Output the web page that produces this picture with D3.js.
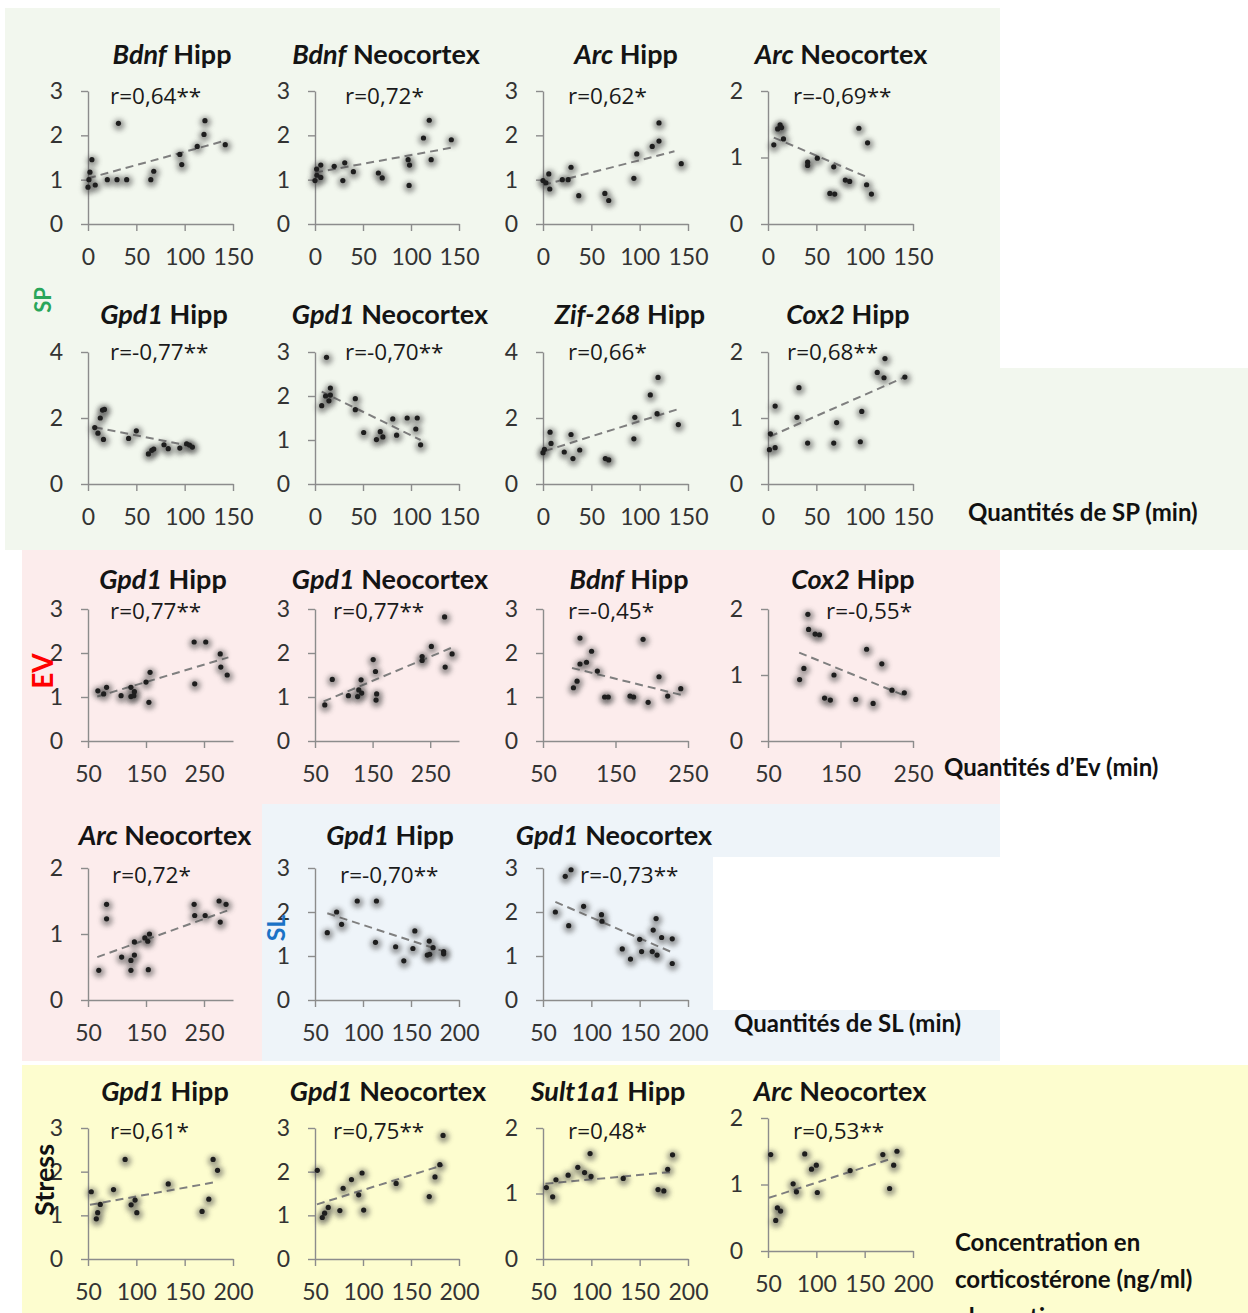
<!DOCTYPE html>
<html><head><meta charset="utf-8">
<script src="https://cdn.jsdelivr.net/npm/d3@7/dist/d3.min.js"></script>
<style>
html,body{margin:0;padding:0;background:#fff;}
svg{display:block;font-family:Lato,"Open Sans",sans-serif;}
</style></head>
<body><svg id="c" width="1248" height="1313"></svg>
<script>
// ---------- DATA ----------
// SP panels (x: Quantités de SP, min)
const spBdnfHipp = [[0,0.83],[2,1.17],[4,1.45],[7.5,0.88],[1,1.0],[20,1.0],[30,1.0],[31.5,2.27],[40,1.0],[65,1.0],[68,1.19],[95,1.57],[97,1.34],[113,1.75],[120,2.02],[121,2.33],[142,1.79]];
const spBdnfHippTrend = [[0,1.03],[142,1.88]];
const spBdnfNeo = [[0,0.98],[1.7,1.24],[2,1.1],[6,1.33],[6,1.05],[20,1.3],[29,0.98],[31,1.38],[40,1.18],[66,1.15],[70,1.04],[97,1.45],[98.5,1.33],[98,0.87],[113,1.94],[119,2.34],[121,1.45],[142,1.9]];
const spBdnfNeoTrend = [[0,1.16],[142,1.72]];
const spArcHipp = [[0,0.98],[3,0.93],[6,1.13],[7,0.79],[20,1.0],[26,1.0],[29,1.28],[37,0.64],[64,0.69],[68,0.53],[94,1.03],[97,1.58],[113,1.75],[120,1.87],[120,2.28],[143,1.36]];
const spArcHippTrend = [[0,0.88],[136,1.64]];
const spArcNeo = [[6,1.19],[10,1.43],[12.5,1.49],[14,1.45],[16,1.28],[41,0.93],[41,0.88],[51,0.99],[64,0.46],[69,0.45],[68,0.86],[80,0.66],[84.5,0.64],[94,1.44],[103,1.22],[102,0.59],[107,0.45]];
const spArcNeoTrend = [[6,1.30],[105,0.69]];
const spGpd1Hipp = [[7,1.71],[10.3,1.54],[12.7,2.0],[15,2.24],[17,2.26],[16,1.35],[42,1.38],[50,1.61],[62.5,0.91],[66,1.02],[68,1.06],[78.6,1.19],[83,1.07],[95,1.09],[102,1.22],[105,1.18],[108,1.12]];
const spGpd1HippTrend = [[7,1.72],[108,1.14]];
const spGpd1Neo = [[7,1.78],[12,2.88],[11,2.0],[14.5,1.89],[16,2.18],[16,2.02],[42,1.94],[42,1.69],[50.7,1.17],[64,1.01],[68,1.19],[70.7,1.07],[81,1.48],[85,1.11],[96,1.5],[106.5,1.5],[105,1.25],[110,0.89]];
const spGpd1NeoTrend = [[7,2.1],[110,1.0]];
const spZifHipp = [[0,0.95],[1.5,1.05],[7.3,1.57],[8.3,1.23],[22,0.97],[29,1.5],[31,0.77],[38,1.03],[64.5,0.77],[68,0.73],[94,1.37],[95,2.02],[111,2.7],[119,3.23],[118,2.13],[140,1.8]];
const spZifHippTrend = [[2,1.0],[140,2.27]];
const spCox2Hipp = [[2.5,0.76],[1.5,0.52],[7.4,0.55],[7.4,1.18],[30,1.01],[32,1.46],[41,0.62],[68,0.62],[71,0.93],[95.5,0.64],[97,1.1],[113,1.69],[120,1.61],[121,1.9],[141.6,1.62]];
const spCox2HippTrend = [[2,0.72],[143,1.63]];
// EV panels (x: Quantités d'Ev, min)
const evGpd1Hipp = [[67,1.14],[77,1.07],[82,1.22],[107,1.03],[124,1.22],[124,1.01],[130,1.12],[129,1.03],[150,1.34],[157,1.56],[155,0.88],[233,2.25],[234,1.3],[253,2.25],[278,1.98],[279,1.68],[290,1.5]];
const evGpd1HippTrend = [[66,1.01],[292,1.9]];
const evGpd1Neo = [[67,0.82],[80,1.4],[108,1.03],[124,1.01],[126,1.16],[130,1.39],[131,1.09],[151,1.85],[155,1.58],[157,1.07],[156,0.93],[236,1.92],[236,1.83],[252,2.15],[275,2.82],[276,1.68],[288,1.98]];
const evGpd1NeoTrend = [[65,0.9],[289,2.13]];
const evBdnfHipp = [[92,1.21],[97,1.36],[101,2.34],[101,1.75],[110,1.79],[117,2.04],[125,1.59],[135,1.0],[140,1.0],[170,1.02],[175,1.0],[188,2.31],[195,0.88],[210,1.46],[222,1.02],[240,1.19]];
const evBdnfHippTrend = [[90,1.66],[245,1.03]];
const evCox2Hipp = [[93.6,0.93],[99.5,1.1],[105,1.92],[106,1.69],[115,1.62],[121,1.61],[128,0.65],[136,0.62],[141,1.0],[171,0.63],[186,1.39],[195,0.57],[207,1.17],[221,0.77],[238,0.73]];
const evCox2HippTrend = [[93,1.34],[240,0.68]];
const evArcNeo = [[68.6,0.45],[82,1.45],[82,1.23],[108,0.65],[124,0.6],[124,0.45],[130,0.68],[130,0.88],[148,0.94],[153,0.89],[156,1.0],[154,0.46],[233,1.45],[234,1.28],[252,1.28],[276,1.5],[278,1.18],[288,1.45]];
const evArcNeoTrend = [[66,0.65],[292,1.36]];
// SL panels (x: Quantités de SL, min)
const slGpd1Hipp = [[62.8,1.53],[72.5,2.0],[77.7,1.72],[94,2.25],[113,1.31],[114,2.25],[134,1.21],[142.5,0.89],[152,1.17],[154,1.57],[167,1.02],[169,1.34],[169.5,1.04],[173,1.19],[184,1.1],[184,1.05]];
const slGpd1HippTrend = [[62.8,1.97],[185,1.1]];
const slGpd1Neo = [[62.8,2.0],[73,2.81],[76.6,1.69],[79,2.96],[92,2.13],[110.5,1.94],[111,1.79],[132,1.16],[140.5,0.93],[150,1.38],[152,1.1],[163,1.1],[164,1.59],[167,1.85],[168,1.02],[172.7,1.42],[183.7,1.39],[183.7,0.83]];
const slGpd1NeoTrend = [[62.8,2.23],[185,1.07]];
// Stress panels (x: corticostérone, ng/ml)
const stGpd1Hipp = [[53.4,1.54],[58.6,0.92],[60,1.06],[62.7,1.25],[76.4,1.59],[88.4,2.28],[94.6,1.24],[98.7,1.35],[100.5,1.06],[133,1.72],[168,1.09],[175,1.37],[179.4,2.28],[184,2.03]];
const stGpd1HippTrend = [[52,1.24],[184,1.77]];
const stGpd1Neo = [[52.4,2.03],[57.6,0.95],[60,1.05],[63.8,1.18],[75.9,1.11],[79.3,1.62],[88,1.82],[95.5,1.47],[99,1.97],[100.7,1.12],[134.5,1.73],[169,1.43],[175,1.88],[180,2.16],[183.4,2.83]];
const stGpd1NeoTrend = [[52,1.25],[183.4,2.15]];
const stSultHipp = [[53.5,1.09],[60,0.95],[63.4,1.21],[76,1.28],[86,1.4],[93,1.32],[98.7,1.61],[99.7,1.26],[133,1.23],[169,1.06],[175,1.04],[179,1.37],[184,1.59]];
const stSultHippTrend = [[52.5,1.15],[184,1.33]];
const stArcNeo = [[52.8,1.45],[58,0.46],[59.7,0.65],[63,0.6],[76,1.01],[79.4,0.89],[88,1.46],[95,1.23],[100,1.29],[101,0.88],[135,1.21],[168.8,1.45],[180,1.29],[175.8,0.94],[183.4,1.5]];
const stArcNeoTrend = [[51,0.8],[178,1.39]];

// Axis tick labels
const ticksX_SP = [0,50,100,150];
const ticksX_EV = [50,150,250];
const ticksX_SL = [50,100,150,200];
const ticksY_3 = [0,1,2,3];
const ticksY_2 = [0,1,2];
const ticksY_4 = [0,2,4];

// Panel titles (gene italic, region) and correlation labels
const genes   = ["Bdnf","Bdnf","Arc","Arc","Gpd1","Gpd1","Zif-268","Cox2","Gpd1","Gpd1","Bdnf","Cox2","Arc","Gpd1","Gpd1","Gpd1","Gpd1","Sult1a1","Arc"];
const regions = ["Hipp","Neocortex","Hipp","Neocortex","Hipp","Neocortex","Hipp","Hipp","Hipp","Neocortex","Hipp","Hipp","Neocortex","Hipp","Neocortex","Hipp","Neocortex","Hipp","Neocortex"];
const rLabels = ["r=0,64**","r=0,72*","r=0,62*","r=-0,69**","r=-0,77**","r=-0,70**","r=0,66*","r=0,68**","r=0,77**","r=0,77**","r=-0,45*","r=-0,55*","r=0,72*","r=-0,70**","r=-0,73**","r=0,61*","r=0,75**","r=0,48*","r=0,53**"];
const seriesList = [spBdnfHipp,spBdnfNeo,spArcHipp,spArcNeo,spGpd1Hipp,spGpd1Neo,spZifHipp,spCox2Hipp,evGpd1Hipp,evGpd1Neo,evBdnfHipp,evCox2Hipp,evArcNeo,slGpd1Hipp,slGpd1Neo,stGpd1Hipp,stGpd1Neo,stSultHipp,stArcNeo];
const trendList = [spBdnfHippTrend,spBdnfNeoTrend,spArcHippTrend,spArcNeoTrend,spGpd1HippTrend,spGpd1NeoTrend,spZifHippTrend,spCox2HippTrend,evGpd1HippTrend,evGpd1NeoTrend,evBdnfHippTrend,evCox2HippTrend,evArcNeoTrend,slGpd1HippTrend,slGpd1NeoTrend,stGpd1HippTrend,stGpd1NeoTrend,stSultHippTrend,stArcNeoTrend];
const xDomains = [[0,150],[0,150],[0,150],[0,150],[0,150],[0,150],[0,150],[0,150],[50,300],[50,300],[50,250],[50,250],[50,300],[50,200],[50,200],[50,200],[50,200],[50,200],[50,200]];
const xTicksList = [ticksX_SP,ticksX_SP,ticksX_SP,ticksX_SP,ticksX_SP,ticksX_SP,ticksX_SP,ticksX_SP,ticksX_EV,ticksX_EV,ticksX_EV,ticksX_EV,ticksX_EV,ticksX_SL,ticksX_SL,ticksX_SL,ticksX_SL,ticksX_SL,ticksX_SL];
const yTicksList = [ticksY_3,ticksY_3,ticksY_3,ticksY_2,ticksY_4,ticksY_3,ticksY_4,ticksY_2,ticksY_3,ticksY_3,ticksY_3,ticksY_2,ticksY_2,ticksY_3,ticksY_3,ticksY_3,ticksY_3,ticksY_2,ticksY_2];

const groupLabels = ["SP","EV","SL","Stress"];
const axisTitles = ["Quantités de SP (min)","Quantités d\u2019Ev (min)","Quantités de SL (min)","Concentration en","corticostérone (ng/ml)","plasmatique"];

// ---------- LAYOUT (pixels) ----------
const colX = [[88,233],[315,459],[543,688],[768,913]];
const rowY = [[91,224],[352,484],[609,741],[868,1000],[1128,1259]];
const cells = [[0,0],[0,1],[0,2],[0,3],[1,0],[1,1],[1,2],[1,3],[2,0],[2,1],[2,2],[2,3],[3,0],[3,1],[3,2],[4,0],[4,1],[4,2],[4,3]];
const titleCX = [172,386,626,841,164,390,630,848,163,390,629,853,165,390,614,165,388,608,840];
const titleY = [53,313,578,834,1090];
const rX = [110,345,568,793,110,345,568,787,110,333,568,826,112,340,580,110,333,568,793];
const rY = [95,351,610,874,1130];

const svg = d3.select("#c");
const defs = svg.append("defs");
defs.append("filter").attr("id","blur").attr("x","-100%").attr("y","-100%").attr("width","300%").attr("height","300%")
  .append("feGaussianBlur").attr("stdDeviation",2.6);

// backgrounds
const bg = svg.append("g");
const rect = (x,y,w,h,c)=>bg.append("rect").attr("x",x).attr("y",y).attr("width",w).attr("height",h).attr("fill",c);
const green="#f2f7ee", pink="#fcecec", blue="#eef4f9", yellow="#fdfdcf";
rect(5,8,995,362,green); rect(5,368,1243,182,green);
rect(22,550,978,254,pink); rect(22,804,240,257,pink);
rect(262,804,738,257,blue); rect(713,857,287,153,"#ffffff");
rect(22,1065,1226,248,yellow);

const axisCol="#8c8c8c", tickCol="#333";

cells.forEach(([r,c],i)=>{
  let [x0,x1]=colX[c]; let [yt,yb]=rowY[r];
  if(i===18){ yt=1118; yb=1251; }
  const xs=d3.scaleLinear().domain(xDomains[i]).range([x0,x1]);
  const yMax=d3.max(yTicksList[i]);
  const ys=d3.scaleLinear().domain([0,yMax]).range([yb,yt]);
  const g=svg.append("g");
  const ax=g.append("g").attr("transform",`translate(0,${yb})`)
    .call(d3.axisBottom(xs).tickValues(xTicksList[i]).tickSize(7).tickSizeOuter(0).tickFormat(d3.format("d")));
  const ay=g.append("g").attr("transform",`translate(${x0},0)`)
    .call(d3.axisLeft(ys).tickValues(yTicksList[i]).tickSize(7).tickSizeOuter(0).tickFormat(d3.format("d")));
  [ax,ay].forEach(a=>{
    a.select(".domain").attr("stroke",axisCol).attr("stroke-width",1.4);
    a.selectAll(".tick line").attr("stroke",axisCol).attr("stroke-width",1.4);
    a.selectAll(".tick text").attr("fill",tickCol).attr("font-size",23).attr("font-family","Lato, sans-serif");
  });
  ax.selectAll(".tick text").attr("y",25).attr("dy","0.71em");
  ay.selectAll(".tick text").attr("x",-25);
  g.append("path").datum(trendList[i])
    .attr("d",d3.line().x(d=>xs(d[0])).y(d=>ys(d[1])))
    .attr("fill","none").attr("stroke","#7f7f7f").attr("stroke-width",2).attr("stroke-dasharray","8,5");
  g.selectAll("circle.h").data(seriesList[i]).join("circle").attr("class","h")
    .attr("cx",d=>xs(d[0])+0.5).attr("cy",d=>ys(d[1])+1.5).attr("r",5.8)
    .attr("fill","#444").attr("opacity",0.5).attr("filter","url(#blur)");
  g.selectAll("circle.p").data(seriesList[i]).join("circle").attr("class","p")
    .attr("cx",d=>xs(d[0])).attr("cy",d=>ys(d[1])).attr("r",2.6).attr("fill","#1e1e1e");
  const t=g.append("text").attr("x",titleCX[i]).attr("y",titleY[r]).attr("text-anchor","middle")
    .attr("dominant-baseline","central").attr("font-size",27).attr("font-weight","bold").attr("fill","#141414");
  t.append("tspan").attr("font-style","italic").text(genes[i]);
  t.append("tspan").text(" "+regions[i]);
  g.append("text").attr("x",rX[i]).attr("y",rY[r]).attr("dominant-baseline","central")
    .attr("font-family","'Open Sans', sans-serif")
    .attr("font-size",22.5).attr("fill","#1a1a1a").text(rLabels[i]);
});

const gl=[[42,300,"#2aa65a",22],[42,671,"#ff0000",28],[275,928,"#1a72c6",25],[43,1180,"#111111",27]];
gl.forEach((d,i)=>{
  svg.append("text").attr("transform",`translate(${d[0]},${d[1]}) rotate(-90)`)
    .attr("text-anchor","middle").attr("dominant-baseline","central")
    .attr("font-size",d[3]).attr("font-weight","bold").attr("fill",d[2]).text(groupLabels[i]);
});
const at=[[968,511],[944,766],[734,1022],[955,1241],[955,1278],[955,1316]];
at.forEach((d,i)=>{
  svg.append("text").attr("x",d[0]).attr("y",d[1]).attr("dominant-baseline","central")
    .attr("font-size",24).attr("font-weight","bold").attr("fill","#111").text(axisTitles[i]);
});
</script></body></html>
